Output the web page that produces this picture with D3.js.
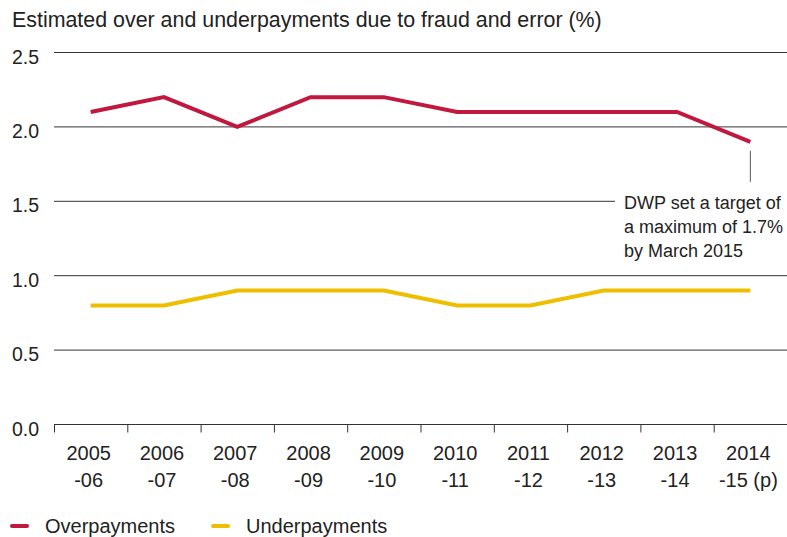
<!DOCTYPE html>
<html>
<head>
<meta charset="utf-8">
<script src="https://cdn.jsdelivr.net/npm/d3@7"></script>
<style>
  html, body { margin: 0; padding: 0; background: #fff; }
  svg { display: block; font-family: "Liberation Sans", Arial, sans-serif; }
</style>
</head>
<body>
<svg id="chart" width="787" height="537"></svg>
<script>
// Financial years and their two-line labels
const yearStart = ["2005", "2006", "2007", "2008", "2009", "2010", "2011", "2012", "2013", "2014"];
const yearEnd = ["-06", "-07", "-08", "-09", "-10", "-11", "-12", "-13", "-14", "-15 (p)"];

// Estimated rates (%) of fraud and error
const overpayments = [2.1, 2.2, 2.0, 2.2, 2.2, 2.1, 2.1, 2.1, 2.1, 1.9];
const underpayments = [0.8, 0.8, 0.9, 0.9, 0.9, 0.8, 0.8, 0.9, 0.9, 0.9];

const yTicks = [0, 0.5, 1.0, 1.5, 2.0, 2.5];
const seriesNames = ["Overpayments", "Underpayments"];
const seriesColors = ["#c0183f", "#eebf00"];

const noteLines = ["DWP set a target of", "a maximum of 1.7%", "by March 2015"];

const svg = d3.select("#chart");
const textColor = "#222";
const ruleColor = "#333";

const x = d3.scaleBand().domain(yearStart).range([54, 787]);
const y = d3.scaleLinear().domain([0, 2.5]).range([424.5, 52.5]);
const mid = d => x(d) + x.bandwidth() / 2;

// Title
svg.append("text")
  .attr("x", 12).attr("y", 26.5)
  .attr("font-size", 21.4).attr("fill", textColor)
  .text("Estimated over and underpayments due to fraud and error (%)");

// Horizontal gridlines; the 1.5 line stops short of the note
svg.append("g").selectAll("line")
  .data(yTicks.filter(d => d > 0))
  .join("line")
  .attr("x1", 54)
  .attr("x2", d => d === 1.5 ? 615 : 787)
  .attr("y1", d => y(d)).attr("y2", d => y(d))
  .attr("stroke", ruleColor).attr("stroke-width", 1);

// Y tick labels
svg.append("g").selectAll("text")
  .data(yTicks)
  .join("text")
  .attr("x", 12)
  .attr("y", d => y(d) + 11)
  .attr("font-size", 19.5).attr("fill", textColor)
  .text(d => d3.format(".1f")(d));

// X axis with ticks at category boundaries
const xAxis = d3.axisBottom(x).tickSize(0).tickFormat("");
const gx = svg.append("g").attr("transform", `translate(0,${y(0)})`).call(xAxis);
gx.select(".domain").attr("stroke", ruleColor).attr("d", "M54,0H787");
gx.selectAll(".boundary")
  .data(yearStart)
  .join("line")
  .attr("class", "boundary")
  .attr("x1", d => x(d) + 0.5).attr("x2", d => x(d) + 0.5)
  .attr("y1", 0).attr("y2", 8)
  .attr("stroke", ruleColor);

// Two-line category labels
const labels = svg.append("g").selectAll("text")
  .data(yearStart)
  .join("text")
  .attr("text-anchor", "middle")
  .attr("font-size", 20).attr("fill", textColor);
labels.append("tspan")
  .attr("x", d => mid(d) - 2).attr("y", 460)
  .text(d => d);
labels.append("tspan")
  .attr("x", d => mid(d) - 2).attr("y", 487)
  .text((d, i) => yearEnd[i]);

// Series lines
const line = d3.line()
  .x((d, i) => mid(yearStart[i]))
  .y(d => y(d));

[overpayments, underpayments].forEach((vals, k) => {
  svg.append("path")
    .datum(vals)
    .attr("d", line)
    .attr("fill", "none")
    .attr("stroke", seriesColors[k])
    .attr("stroke-width", 4)
    .attr("stroke-linejoin", "miter");
});

// Annotation on the last overpayments point
const lastX = mid(yearStart[9]);
svg.append("line")
  .attr("x1", lastX).attr("x2", lastX)
  .attr("y1", y(overpayments[9]) + 9).attr("y2", y(overpayments[9]) + 40)
  .attr("stroke", "#555").attr("stroke-width", 1);

svg.append("text")
  .attr("font-size", 18).attr("fill", textColor)
  .selectAll("tspan")
  .data(noteLines)
  .join("tspan")
  .attr("x", 624)
  .attr("y", (d, i) => 209 + i * 24)
  .text(d => d);

// Legend
const legend = svg.append("g").selectAll("g")
  .data(seriesNames)
  .join("g")
  .attr("transform", (d, i) => `translate(${i === 0 ? 12 : 213},526)`);
legend.append("line")
  .attr("x1", 0).attr("x2", 15)
  .attr("stroke", (d, i) => seriesColors[i])
  .attr("stroke-width", 4).attr("stroke-linecap", "round");
legend.append("text")
  .attr("x", 33).attr("y", 6.5)
  .attr("font-size", 20).attr("fill", textColor)
  .text(d => d);
</script>
</body>
</html>
